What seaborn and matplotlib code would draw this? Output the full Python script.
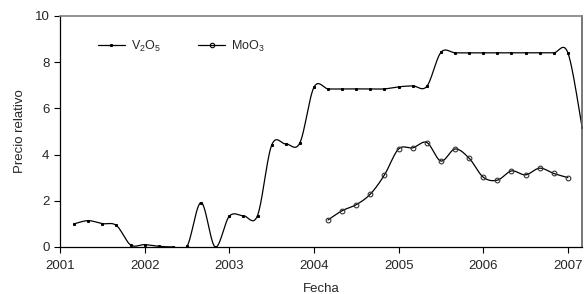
import numpy as np
import pandas as pd
import seaborn as sns
import matplotlib.pyplot as plt
from matplotlib.lines import Line2D

# bimonthly price index
v2o5_dates = ['2001-03', '2001-05', '2001-07', '2001-09', '2001-11', '2002-01',
              '2002-03', '2002-05', '2002-07', '2002-09', '2002-11', '2003-01',
              '2003-03', '2003-05', '2003-07', '2003-09', '2003-11', '2004-01',
              '2004-03', '2004-05', '2004-07', '2004-09', '2004-11', '2005-01',
              '2005-03', '2005-05', '2005-07', '2005-09', '2005-11', '2006-01',
              '2006-03', '2006-05', '2006-07', '2006-09', '2006-11', '2007-01',
              '2007-03']
v2o5 = [1.00, 1.14, 1.01, 0.93, 0.09, 0.10,
        0.03, 0.00, 0.02, 1.92, 0.00, 1.33,
        1.35, 1.36, 4.40, 4.46, 4.50, 6.91,
        6.84, 6.84, 6.84, 6.84, 6.84, 6.93,
        6.97, 6.95, 8.42, 8.40, 8.40, 8.40,
        8.40, 8.40, 8.40, 8.40, 8.40, 8.40,
        5.20]

moo3_dates = ['2004-03', '2004-05', '2004-07', '2004-09', '2004-11', '2005-01',
              '2005-03', '2005-05', '2005-07', '2005-09', '2005-11', '2006-01',
              '2006-03', '2006-05', '2006-07', '2006-09', '2006-11', '2007-01']
moo3 = [1.17, 1.57, 1.83, 2.29, 3.12, 4.24,
        4.29, 4.52, 3.72, 4.24, 3.84, 3.02,
        2.89, 3.29, 3.12, 3.41, 3.18, 3.00]

x_ticks = [2001, 2002, 2003, 2004, 2005, 2006, 2007]
y_ticks = [0, 2, 4, 6, 8, 10]


def to_year(dates):
    d = pd.to_datetime(dates)
    return (d.year + (d.month - 1) / 12).to_numpy(dtype=float)


def smooth(x, y, n=24):
    # Excel-style smoothed line (Catmull-Rom bezier) drawn through the points
    p = np.column_stack([x, y])
    p = np.vstack([p[0], p, p[-1]])
    out = []
    for i in range(1, len(p) - 2):
        p0, p1, p2, p3 = p[i - 1], p[i], p[i + 1], p[i + 2]
        c1 = p1 + (p2 - p0) / 6
        c2 = p2 - (p3 - p1) / 6
        t = np.linspace(0, 1, n, endpoint=False)[:, None]
        seg = ((1 - t) ** 3 * p1 + 3 * (1 - t) ** 2 * t * c1
               + 3 * (1 - t) * t ** 2 * c2 + t ** 3 * p2)
        out.append(seg)
    out.append(p[-2][None, :])
    out = np.vstack(out)
    return pd.DataFrame({'x': out[:, 0], 'y': out[:, 1]})


sns.set_style('ticks')
plt.rcParams['font.family'] = ['Liberation Sans', 'DejaVu Sans']
plt.rcParams['mathtext.fontset'] = 'custom'
plt.rcParams['mathtext.rm'] = 'Liberation Sans'
plt.rcParams['mathtext.it'] = 'Liberation Sans'

fig = plt.figure(figsize=(5.84, 2.94), dpi=100)
ax = fig.add_axes([0.1027, 0.160, 0.8939, 0.786])

xv = to_year(v2o5_dates)
xm = to_year(moo3_dates)

sns.lineplot(data=smooth(xv, v2o5), x='x', y='y', sort=False, color='black',
             lw=0.9, ax=ax)
ax.plot(xv, v2o5, ls='none', marker='s', ms=1.2, color='black')

sns.lineplot(data=smooth(xm, moo3), x='x', y='y', sort=False, color='black',
             lw=0.9, ax=ax)
ax.plot(xm, moo3, ls='none', marker='o', ms=3.4, mfc='none', mec='#333333',
        mew=0.8)

ax.set_xlim(2001, 2001 + 37 / 6)
ax.set_ylim(0, 10)
ax.set_xticks(x_ticks)
ax.set_yticks(y_ticks)
ax.tick_params(labelsize=9.5, length=4, width=0.8, color='black', pad=3.5)
ax.tick_params(axis='x', pad=5.5)
ax.set_xlabel('Fecha', fontsize=9.5, labelpad=8)
ax.set_ylabel('Precio relativo', fontsize=9.5, labelpad=6)

for side in ['left', 'bottom']:
    ax.spines[side].set_color('black')
    ax.spines[side].set_linewidth(0.9)
ax.spines['top'].set_color('#808080')
ax.spines['top'].set_linewidth(1.2)
ax.spines['right'].set_color('#606060')
ax.spines['right'].set_linewidth(1.2)

handles = [
    Line2D([], [], color='black', lw=0.9, marker='s', ms=1.2),
    Line2D([], [], color='black', lw=0.9, marker='o', ms=3.2, mfc='none',
           mew=0.8),
]
ax.legend(handles, ['V$_2$O$_5$', 'MoO$_3$'], loc='upper left',
          bbox_to_anchor=(0.052, 0.95), ncol=2, frameon=False, fontsize=9,
          handlelength=2.1, columnspacing=3.0, handletextpad=0.5)

fig.savefig('out.png', dpi=100)
